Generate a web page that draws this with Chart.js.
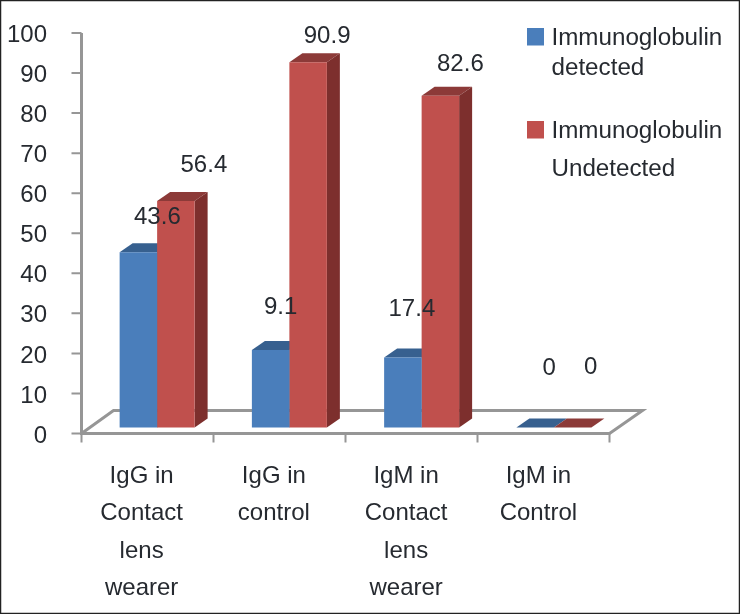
<!DOCTYPE html>
<html>
<head>
<meta charset="utf-8">
<title>Immunoglobulin detection</title>
<script src="https://cdn.jsdelivr.net/npm/chart.js@4/dist/chart.umd.min.js"></script>
<style>
    html, body { margin: 0; padding: 0; background: #ffffff; }
    canvas { display: block; }
</style>
</head>
<body>
<canvas id="chart" width="740" height="614"></canvas>
<script>
var categories = [
    ["IgG in", "Contact", "lens", "wearer"],
    ["IgG in", "control"],
    ["IgM in", "Contact", "lens", "wearer"],
    ["IgM in", "Control"]
];
var series_names = ["Immunoglobulin detected", "Immunoglobulin Undetected"];

// The second blue bar stands near 19 in the source even though it is labelled 9.1
var detected_values = [43.6, 19.3, 17.4, 0];
var undetected_values = [56.4, 90.9, 82.6, 0];
var detected_labels = ["43.6", "9.1", "17.4", "0"];
var undetected_labels = ["56.4", "90.9", "82.6", "0"];

var legend_lines = [["Immunoglobulin", "detected"], ["Immunoglobulin", "Undetected"]];

var text_color = "#262a30";
var axis_color = "#969696";
var font_family = "'Liberation Sans', Arial, sans-serif";

var front_colors = ["#4a7ebb", "#c0504d"];
var top_colors = ["#37608f", "#8c3a38"];
var side_colors = ["#2f5480", "#7d2f2d"];

var bar_depth = [13, 9];
var floor_depth = [33, 23];
var axis_inset = 9.5;  // Axis walls sit left of the bars' category bands

// Label shift from the top middle of each bar, dx then dy
var label_shifts = [
    [[19, -35], [10, -43], [9, -48], [14, -59]],
    [[28, -36], [19, -26], [20, -31], [18, -60]]
];

var legend_swatches_y = [28, 121];
var legend_baselines = [[45, 75], [138, 175.5]];

var depth_plugin = {
    "id": "depth_plugin",
    "beforeDatasetsDraw": function (chart) {
        var ctx = chart.ctx;
        var y_scale = chart.scales["y"];
        var area = chart.chartArea;
        var axis_x = area.left - axis_inset;
        var floor_y = y_scale.getPixelForValue(0);
        var floor_right = axis_x + 528;

        ctx.save();
        ctx.strokeStyle = axis_color;
        ctx.lineWidth = 3;

        // Floor outline
        ctx.beginPath();
        ctx.moveTo(axis_x, y_scale.getPixelForValue(100));
        ctx.lineTo(axis_x, floor_y);
        ctx.lineTo(floor_right, floor_y);
        ctx.lineTo(floor_right + floor_depth[0], floor_y - floor_depth[1]);
        ctx.lineTo(axis_x + floor_depth[0] - 1, floor_y - floor_depth[1]);
        ctx.lineTo(axis_x, floor_y);
        ctx.stroke();

        // Tick marks
        ctx.lineWidth = 2;
        ctx.beginPath();

        y_scale.ticks.forEach(function (tick) {
            var tick_y = y_scale.getPixelForValue(tick.value);

            ctx.moveTo(axis_x - 10, tick_y);
            ctx.lineTo(axis_x, tick_y);
        });

        for (var i = 0; i <= categories.length; i++) {
            ctx.moveTo(axis_x + i * 132, floor_y);
            ctx.lineTo(axis_x + i * 132, floor_y + 9);
        }

        ctx.stroke();

        // Top and side faces go under the fronts the library draws
        chart.data.datasets.forEach(function (dataset, index) {
            chart.getDatasetMeta(index).data.forEach(function (bar) {
                var left = bar.x - bar.width / 2;
                var right = bar.x + bar.width / 2;

                ctx.fillStyle = top_colors[index];
                ctx.beginPath();
                ctx.moveTo(left, bar.y);
                ctx.lineTo(left + bar_depth[0], bar.y - bar_depth[1]);
                ctx.lineTo(right + bar_depth[0], bar.y - bar_depth[1]);
                ctx.lineTo(right, bar.y);
                ctx.closePath();
                ctx.fill();

                ctx.fillStyle = side_colors[index];
                ctx.beginPath();
                ctx.moveTo(right, bar.y);
                ctx.lineTo(right + bar_depth[0], bar.y - bar_depth[1]);
                ctx.lineTo(right + bar_depth[0], bar.base - bar_depth[1]);
                ctx.lineTo(right, bar.base);
                ctx.closePath();
                ctx.fill();
            });
        });

        ctx.restore();
    },
    "afterDraw": function (chart) {
        var ctx = chart.ctx;
        var value_labels = [detected_labels, undetected_labels];

        ctx.save();
        ctx.fillStyle = text_color;
        ctx.textBaseline = "middle";
        ctx.textAlign = "center";
        ctx.font = "24px " + font_family;

        chart.data.datasets.forEach(function (dataset, index) {
            chart.getDatasetMeta(index).data.forEach(function (bar, i) {
                ctx.fillText(
                    value_labels[index][i],
                    bar.x + label_shifts[index][i][0],
                    bar.y + label_shifts[index][i][1]
                );
            });
        });

        // Legend
        ctx.textAlign = "left";
        ctx.textBaseline = "alphabetic";
        ctx.font = "24.2px " + font_family;

        legend_lines.forEach(function (lines, index) {
            ctx.fillStyle = front_colors[index];
            ctx.fillRect(527, legend_swatches_y[index], 17, 17.5);

            ctx.fillStyle = text_color;

            lines.forEach(function (line, line_index) {
                ctx.fillText(line, 551.5, legend_baselines[index][line_index]);
            });
        });

        // Thin frame around the figure
        ctx.strokeStyle = "#222222";
        ctx.lineWidth = 1.5;
        ctx.strokeRect(0.5, 0.5, chart.width - 1, chart.height - 1);

        ctx.restore();
    }
};

new Chart(document.getElementById("chart").getContext("2d"), {
    "type": "bar",
    "data": {
        "labels": categories,
        "datasets": [
            {
                "label": series_names[0],
                "data": detected_values,
                "backgroundColor": front_colors[0],
                "yAxisID": "bars",
                "borderWidth": 0
            },
            {
                "label": series_names[1],
                "data": undetected_values,
                "backgroundColor": front_colors[1],
                "yAxisID": "bars",
                "borderWidth": 0
            }
        ]
    },
    "options": {
        "responsive": false,
        "animation": false,
        "categoryPercentage": 0.567,
        "barPercentage": 1,
        "layout": {
            "padding": {"top": 33, "right": 120, "left": 0, "bottom": 0}
        },
        "plugins": {
            "legend": {"display": false},
            "tooltip": {"enabled": false},
            "title": {"display": false}
        },
        "scales": {
            "x": {
                "grid": {"display": false},
                "border": {"display": false},
                "afterFit": function (scale) {
                    scale.height = 180.5;
                    scale.paddingLeft = 0;
                    scale.paddingRight = 0;
                    scale.paddingTop = 0;
                    scale.paddingBottom = 0;
                },
                "ticks": {
                    "color": text_color,
                    "autoSkip": false,
                    "maxRotation": 0,
                    "minRotation": 0,
                    "labelOffset": -15.5,
                    "padding": 16,
                    "font": {"family": font_family, "size": 24, "lineHeight": 1.5625}
                }
            },
            "y": {
                "min": 0,
                "max": 100,
                "grid": {"display": false},
                "border": {"display": false},
                "afterFit": function (scale) {
                    scale.width = 91;
                    scale.paddingLeft = 0;
                    scale.paddingRight = 0;
                    scale.paddingTop = 0;
                    scale.paddingBottom = 0;
                },
                "ticks": {
                    "stepSize": 10,
                    "color": text_color,
                    "padding": 36,
                    "labelOffset": 2.5,
                    "font": {"family": font_family, "size": 24}
                }
            },
            // Bars stand a little in front of the axis floor, so they get their own hidden scale
            "bars": {
                "display": false,
                "min": -1.5,
                "max": 98.2
            }
        }
    },
    "plugins": [depth_plugin]
});
</script>
</body>
</html>
